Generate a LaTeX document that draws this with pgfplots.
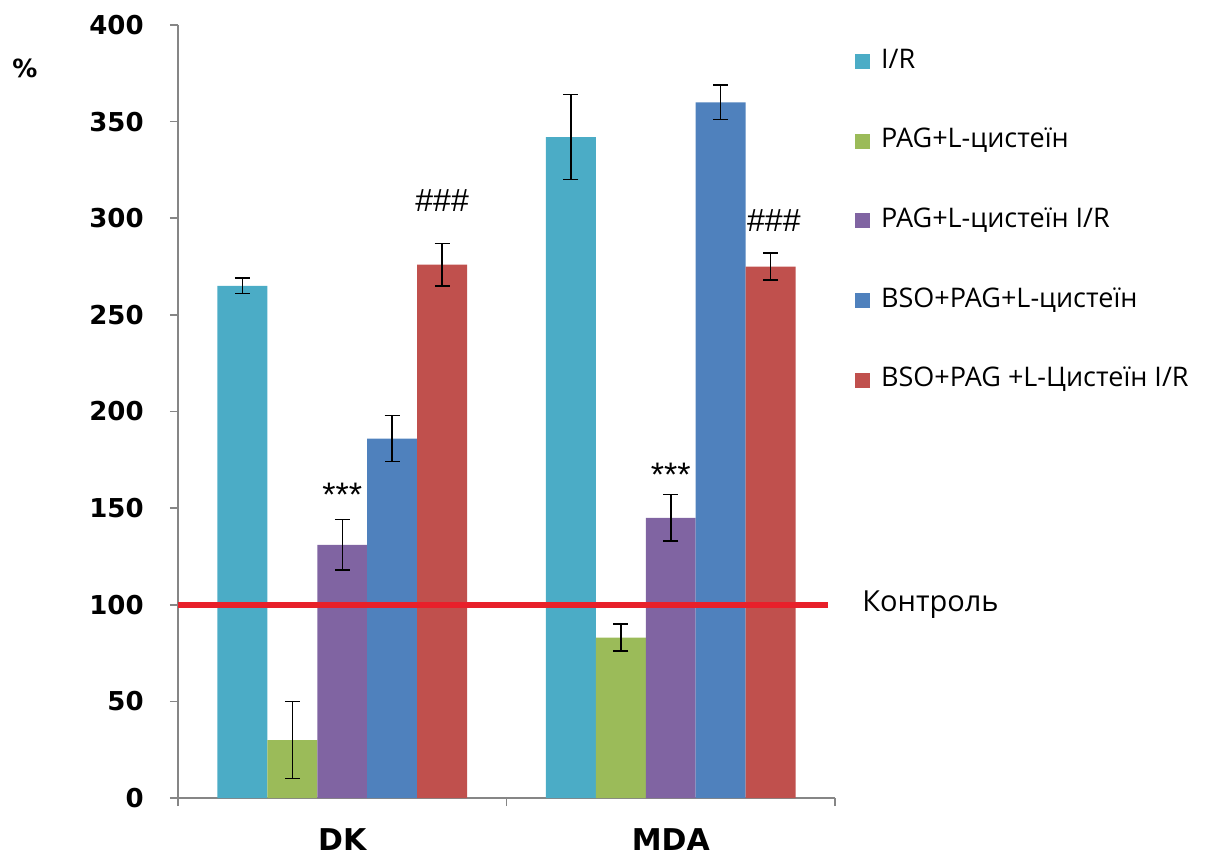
\documentclass[border=0pt]{standalone}
\usepackage{fontspec}
\setmainfont{Open Sans}
\newfontfamily\tickfont{DejaVu Sans}
\newfontfamily\arialfont{Liberation Sans}
\usepackage{pgfplots}
\pgfplotsset{compat=1.18}
\definecolor{cIR}{HTML}{4BACC6}
\definecolor{cPAG}{HTML}{9BBB59}
\definecolor{cPAGIR}{HTML}{8064A2}
\definecolor{cBSO}{HTML}{4F81BD}
\definecolor{cBSOIR}{HTML}{C0504D}
\definecolor{cCtrl}{HTML}{E8202A}
\definecolor{axgray}{HTML}{868686}
\begin{document}
\begin{tikzpicture}
\useasboundingbox (0,0) rectangle (602.5pt,429pt);
\begin{axis}[
  at={(89pt,30pt)}, anchor=south west,
  scale only axis, width=328.5pt, height=386.5pt,
  xmin=-0.5, xmax=1.5, ymin=0, ymax=400,
  axis lines*=left,
  axis line style={axgray, line width=0.75pt},
  every tick/.style={axgray, line width=0.75pt},
  tick align=outside, major tick length=4pt,
  ytick={0,50,...,400},
  xtick={-0.5,0.5,1.5}, xticklabels={},
  extra x ticks={0,1}, extra x tick labels={DK,MDA},
  extra x tick style={major tick length=0pt, grid=none},
  /pgf/number format/assume math mode=true,
  yticklabel style={font=\tickfont\bfseries\fontsize{13}{13}\selectfont, inner sep=0pt, anchor=east, xshift=-13pt},
  xticklabel style={font=\tickfont\bfseries\fontsize{15}{15}\selectfont, inner sep=0pt, anchor=north, yshift=-15pt},
  clip=false,
  legend style={draw=none, fill=none, at={(1.03,0.973)}, anchor=north west,
    font=\fontsize{13.5}{15}\selectfont, row sep=24.3pt, inner sep=0pt,
    nodes={inner sep=1pt, text height=10pt, text depth=3.5pt},
    /tikz/every odd column/.append style={column sep=4.5pt}},
  legend cell align=left,
  error bars/error bar style={black, line width=0.75pt},
  error bars/error mark options={black, rotate=90, mark size=3.75pt, line width=0.75pt},
]
\addplot[ybar, bar width=0.152, bar shift=0pt, fill=cIR, draw=none,
  legend image code/.code={\fill[cIR] (0pt,-3.75pt) rectangle (7.5pt,3.75pt);},
  error bars/.cd, y dir=both, y explicit]
  coordinates {(-0.304,265) +- (0,4) (0.696,342) +- (0,22)};
\addlegendentry{I/R}
\addplot[ybar, bar width=0.152, bar shift=0pt, fill=cPAG, draw=none,
  legend image code/.code={\fill[cPAG] (0pt,-3.75pt) rectangle (7.5pt,3.75pt);},
  error bars/.cd, y dir=both, y explicit]
  coordinates {(-0.152,30) +- (0,20) (0.848,83) +- (0,7)};
\addlegendentry{PAG+L-цистеїн}
\addplot[ybar, bar width=0.152, bar shift=0pt, fill=cPAGIR, draw=none,
  legend image code/.code={\fill[cPAGIR] (0pt,-3.75pt) rectangle (7.5pt,3.75pt);},
  error bars/.cd, y dir=both, y explicit]
  coordinates {(0,131) +- (0,13) (1,145) +- (0,12)};
\addlegendentry{PAG+L-цистеїн I/R}
\addplot[ybar, bar width=0.152, bar shift=0pt, fill=cBSO, draw=none,
  legend image code/.code={\fill[cBSO] (0pt,-3.75pt) rectangle (7.5pt,3.75pt);},
  error bars/.cd, y dir=both, y explicit]
  coordinates {(0.152,186) +- (0,12) (1.152,360) +- (0,9)};
\addlegendentry{BSO+PAG+L-цистеїн}
\addplot[ybar, bar width=0.152, bar shift=0pt, fill=cBSOIR, draw=none,
  legend image code/.code={\fill[cBSOIR] (0pt,-3.75pt) rectangle (7.5pt,3.75pt);},
  error bars/.cd, y dir=both, y explicit]
  coordinates {(0.304,276) +- (0,11) (1.304,275) +- (0,7)};
\addlegendentry{BSO+PAG +L-Цистеїн I/R}
\addplot[cCtrl, line width=3pt, forget plot] coordinates {(-0.5,100) (1.48,100)};
\node[anchor=west, font=\fontsize{14.5}{15}\selectfont] at (axis cs:1.562,100) {Контроль};
\node[font=\arialfont\fontsize{17}{17}\selectfont] at (axis cs:0,157) {***};
\node[font=\arialfont\fontsize{17}{17}\selectfont] at (axis cs:1,167) {***};
\node[font=\arialfont\fontsize{16}{16}\selectfont] at (axis cs:0.304,309) {\#\#\#};
\node[font=\arialfont\fontsize{16}{16}\selectfont] at (axis cs:1.314,299) {\#\#\#};
\node[font=\tickfont\bfseries\fontsize{12.5}{13}\selectfont] at (rel axis cs:-0.233,0.944) {\%};
\end{axis}
\end{tikzpicture}
\end{document}
